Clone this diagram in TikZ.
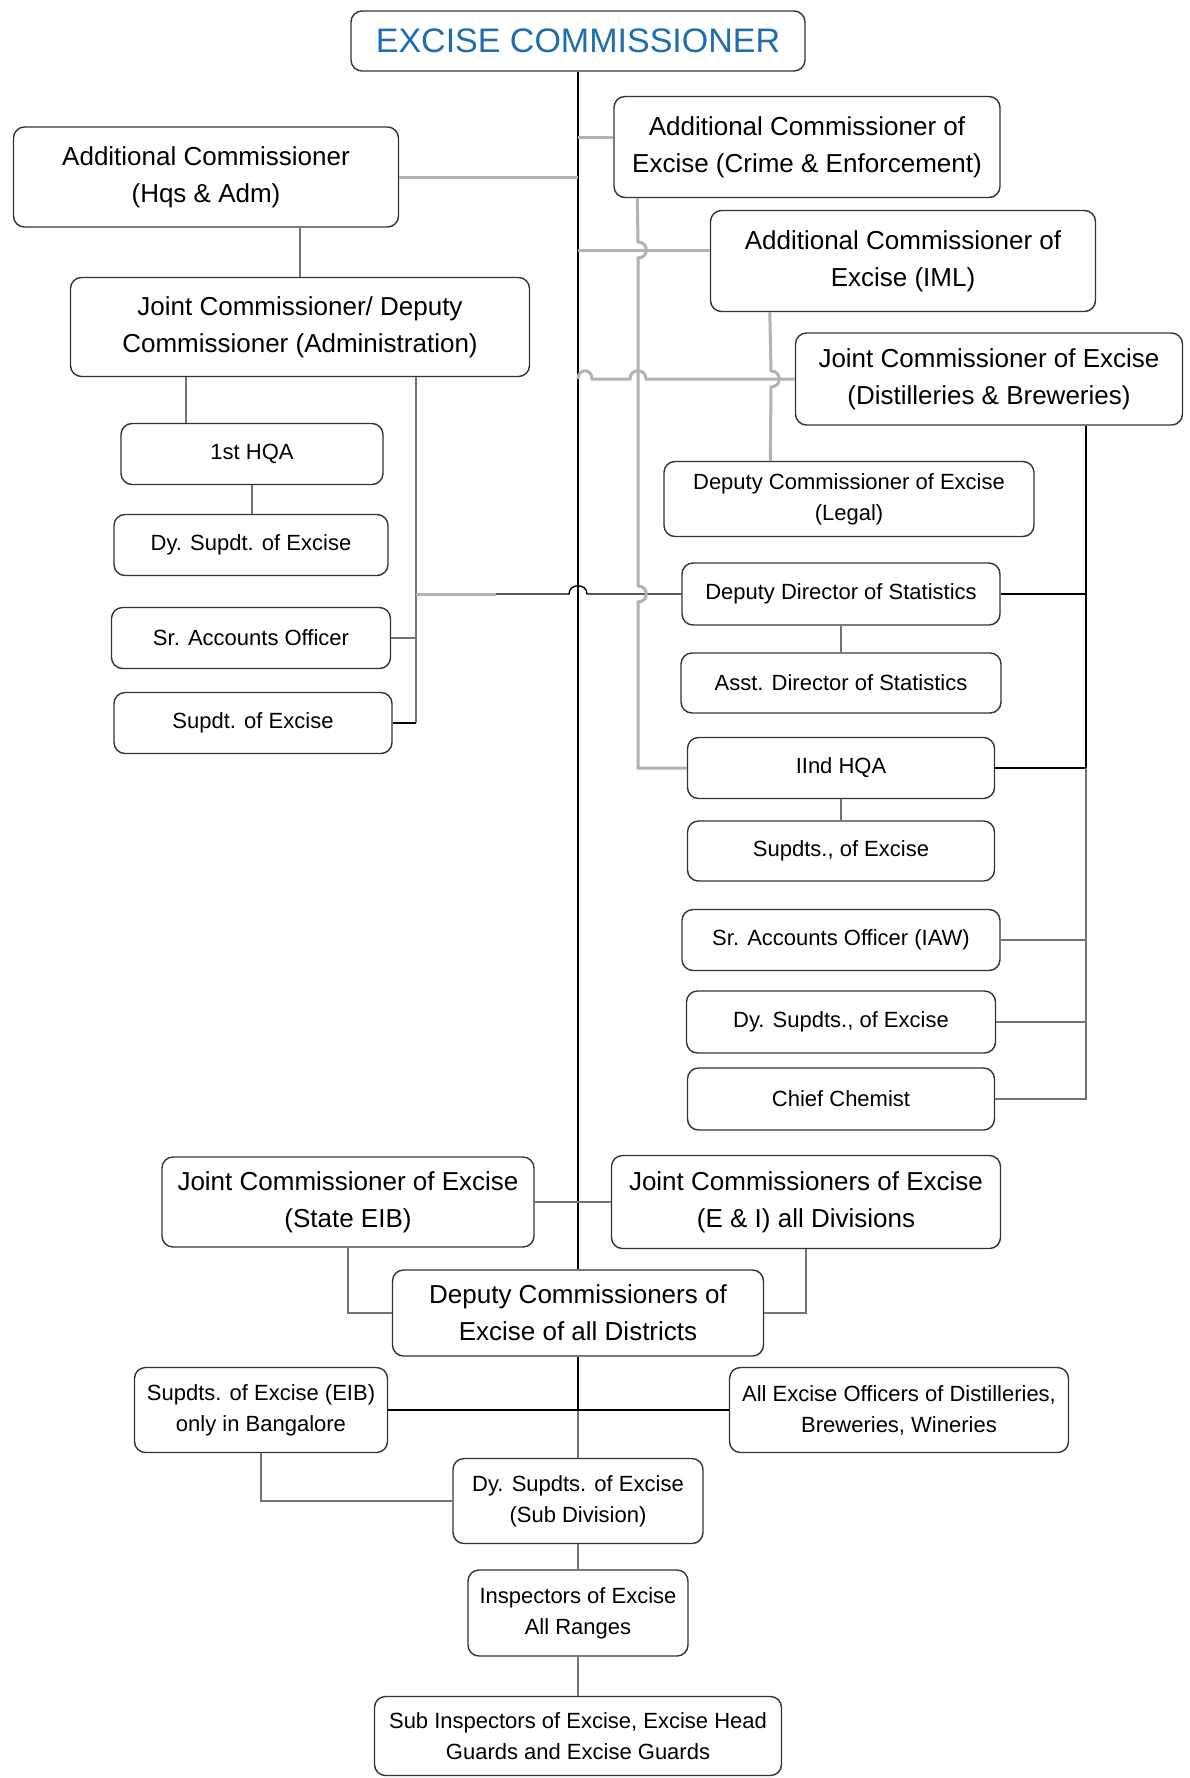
\documentclass[tikz,border=0pt]{standalone}
\usepackage{fontspec}
\setmainfont{Liberation Sans}
\definecolor{ecblue}{RGB}{30,110,175}

\begin{document}
\begin{tikzpicture}[x=1pt,y=-1pt,
    box/.style={draw=black!80, line width=1.4pt, rounded corners=11pt, fill=white, align=center, inner sep=0pt},
    big/.style={font=\fontsize{26}{37}\selectfont},
    small/.style={font=\fontsize{22}{31}\selectfont},
    blk/.style={line width=1.4pt, black},
    gry/.style={line width=3pt, black!30},
    mgry/.style={line width=1.6pt, black!55}]

                \fill[white] (0,0) rectangle (1189,1778);
                \useasboundingbox (0,0) rectangle (1189,1778);

                % top
                \node [box, font=\fontsize{34}{40}\selectfont, text=ecblue, minimum width=454pt, minimum height=60pt] (EC) at (578,41) {EXCISE COMMISSIONER};

                \node [box, big, minimum width=385pt, minimum height=100pt] (ACH) at (206,177) {Additional Commissioner\\(Hqs \& Adm)};
                \node [box, big, minimum width=386pt, minimum height=101pt] (ACC) at (807,147) {Additional Commissioner of\\Excise (Crime \& Enforcement)};
                \node [box, big, minimum width=385pt, minimum height=101pt] (ACI) at (903,261) {Additional Commissioner of\\Excise (IML)};
                \node [box, big, minimum width=387pt, minimum height=92pt] (JCD) at (989,379) {Joint Commissioner of Excise\\(Distilleries \& Breweries)};
                \node [box, big, minimum width=459pt, minimum height=99pt] (JCA) at (300,327) {Joint Commissioner/ Deputy\\Commissioner (Administration)};

                % left column
                \node [box, small, minimum width=262pt, minimum height=61pt] (HQ1) at (252,454) {1st HQA};
                \node [box, small, minimum width=274pt, minimum height=61pt] (DSE) at (251,545) {Dy. Supdt. of Excise};
                \node [box, small, minimum width=279pt, minimum height=61pt] (SAO) at (251,638) {Sr. Accounts Officer};
                \node [box, small, minimum width=278pt, minimum height=61pt] (SE) at (253,723) {Supdt. of Excise};

                % right column
                \node [box, small, minimum width=370pt, minimum height=75pt] (DCL) at (849,499) {Deputy Commissioner of Excise\\(Legal)};
                \node [box, small, minimum width=318pt, minimum height=62pt] (DDS) at (841,594) {Deputy Director of Statistics};
                \node [box, small, minimum width=320pt, minimum height=60pt] (ADS) at (841,683) {Asst. Director of Statistics};
                \node [box, small, minimum width=307pt, minimum height=61pt] (HQ2) at (841,768) {IInd HQA};
                \node [box, small, minimum width=307pt, minimum height=60pt] (SPE) at (841,851) {Supdts., of Excise};
                \node [box, small, minimum width=318pt, minimum height=61pt] (SAI) at (841,940) {Sr. Accounts Officer (IAW)};
                \node [box, small, minimum width=309pt, minimum height=62pt] (DSP) at (841,1022) {Dy. Supdts., of Excise};
                \node [box, small, minimum width=307pt, minimum height=62pt] (CC) at (841,1099) {Chief Chemist};

                % bottom
                \node [box, big, minimum width=372pt, minimum height=90pt] (JCS) at (348,1202) {Joint Commissioner of Excise\\(State EIB)};
                \node [box, big, minimum width=389pt, minimum height=93pt] (JCE) at (806,1202) {Joint Commissioners of Excise\\(E \& I) all Divisions};
                \node [box, big, minimum width=371pt, minimum height=86pt] (DCD) at (578,1313) {Deputy Commissioners of\\Excise of all Districts};
                \node [box, small, minimum width=253pt, minimum height=85pt] (SEB) at (261,1410) {Supdts. of Excise (EIB)\\only in Bangalore};
                \node [box, small, minimum width=339pt, minimum height=85pt] (AEO) at (899,1410) {All Excise Officers of Distilleries,\\Breweries, Wineries};
                \node [box, small, minimum width=250pt, minimum height=85pt] (DSS) at (578,1501) {Dy. Supdts. of Excise\\(Sub Division)};
                \node [box, small, minimum width=220pt, minimum height=86pt] (INS) at (578,1613) {Inspectors of Excise\\All Ranges};
                \node [box, small, minimum width=407pt, minimum height=79pt] (SIE) at (578,1736) {Sub Inspectors of Excise, Excise Head\\Guards and Excise Guards};

                % trunk
                \draw[blk] (EC.south) -- (DCD.north);
                \draw[blk] (DCD.south) -- (DCD.south |- SEB.east);
                \draw[mgry] (DCD.south |- SEB.east) -- (DSS.north);
                \draw[mgry] (DSS.south) -- (INS.north);
                \draw[mgry] (INS.south) -- (SIE.north);

                % left branch
                \draw[gry] (ACH.east) -- (ACH.east -| EC.south);
                \draw[mgry] (JCA.north) -- (JCA.north |- ACH.south);
                \draw[mgry] ([xshift=116pt]JCA.south west) -- ([xshift=116pt]JCA.south west |- HQ1.north);
                \draw[mgry] (HQ1.south) -- (HQ1.south |- DSE.north);
                \coordinate (jr) at ([xshift=116pt]JCA.south);
                \draw[mgry] (jr) -- (jr |- SE.east);
                \draw[blk] (SE.east) -- (SE.east -| jr);
                \draw[mgry] (SAO.east) -- (SAO.east -| jr);
                \draw[gry] (jr |- DDS.west) -- (496,594);
                \draw[blk] (496,594) -- (569,594) .. controls (569,583) and (587,583) .. (587,594) -- (DDS.west);

                % right branch
                \draw[gry] ([yshift=10pt]ACC.west) -- ([yshift=10pt]ACC.west -| EC.south);
                \draw[gry] ([yshift=11pt]ACI.west) -- ([yshift=11pt]ACI.west -| EC.south);
                \draw[gry] (EC.south |- JCD.west) .. controls (578,368) and (592,368) .. (592,379) -- (630,379)
                    .. controls (630,368) and (646,368) .. (646,379) -- (JCD.west);
                \draw[gry] ([xshift=24pt]ACC.south west) -- (638,242) .. controls (649,242) and (649,258) .. (638,258)
                    -- (638,586) .. controls (649,586) and (649,602) .. (638,602) |- (HQ2.west);
                \draw[gry] ([xshift=60pt]ACI.south west) -- (771,371) .. controls (782,371) and (782,387) .. (771,387)
                    -- ([xshift=107pt]DCL.north west);
                \draw[mgry] (DDS.south) -- (ADS.north);
                \draw[mgry] (HQ2.south) -- (SPE.north);
                \coordinate (jd) at ([xshift=97pt]JCD.south);
                \draw[blk] (jd) |- (DDS.east);
                \draw[blk] (jd) |- (HQ2.east);
                \draw[mgry] (jd |- HQ2.east) |- (CC.east);
                \draw[mgry] (SAI.east) -- (SAI.east -| jd);
                \draw[mgry] (DSP.east) -- (DSP.east -| jd);

                % lower branches
                \draw[mgry] (JCS.east) -- (JCS.east -| EC.south);
                \draw[mgry] (JCE.west) -- (JCE.west -| EC.south);
                \draw[mgry] (JCS.south) |- (DCD.west);
                \draw[mgry] (JCE.south) |- (DCD.east);
                \draw[blk] (SEB.east) -- (SEB.east -| DCD.south);
                \draw[blk] (AEO.west) -- (AEO.west -| DCD.south);
                \draw[mgry] (SEB.south) |- (DSS.west);

                \end{tikzpicture}
\end{document}
